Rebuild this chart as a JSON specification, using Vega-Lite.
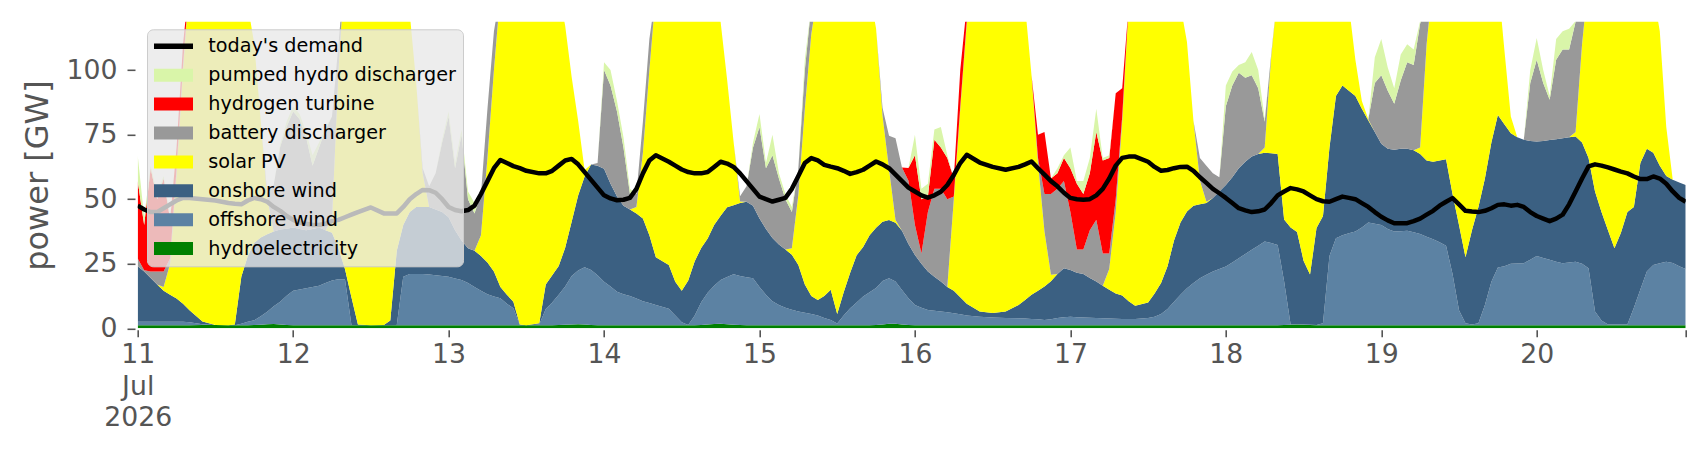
{
"$schema": "https://vega.github.io/schema/vega-lite/v6.json",
"width": 1548, "height": 306.5,
"autosize": {"type": "none"},
"padding": {"left": 137.7, "top": 21.8, "right": 20.3, "bottom": 131.7},
"background": "white",
"config": {"view": {"stroke": null}, "font": "DejaVu Sans"},
"datasets": {
"series": [
{"k":"hy","label":"hydroelectricity","i":1},
{"k":"of","label":"offshore wind","i":2},
{"k":"on","label":"onshore wind","i":3},
{"k":"so","label":"solar PV","i":4},
{"k":"ba","label":"battery discharger","i":5},
{"k":"h2","label":"hydrogen turbine","i":6},
{"k":"ph","label":"pumped hydro discharger","i":7}],
"gen": [
{"t":"2026-07-11T00:00","hy":1.2,"of":1.3,"on":21.5,"so":0,"ba":3,"h2":30,"ph":10,"d":47.5},
{"t":"2026-07-11T01:00","hy":1.2,"of":1.3,"on":19.5,"so":0,"ba":0.5,"h2":17.5,"ph":3,"d":46},
{"t":"2026-07-11T02:00","hy":1.2,"of":1.3,"on":17,"so":0,"ba":2.5,"h2":40,"ph":1,"d":45},
{"t":"2026-07-11T03:00","hy":1.2,"of":1.3,"on":14.5,"so":0,"ba":5,"h2":28,"ph":2,"d":45},
{"t":"2026-07-11T04:00","hy":1.2,"of":1.3,"on":12,"so":1.5,"ba":6,"h2":36,"ph":1,"d":46.5},
{"t":"2026-07-11T05:00","hy":1.2,"of":1.3,"on":10.5,"so":12,"ba":2,"h2":15,"ph":1,"d":48},
{"t":"2026-07-11T06:00","hy":1.2,"of":1.3,"on":9,"so":48.5,"ba":2,"h2":8,"ph":0,"d":49.5},
{"t":"2026-07-11T07:00","hy":1.2,"of":1.3,"on":7,"so":90.5,"ba":2,"h2":8,"ph":0,"d":50.5},
{"t":"2026-07-11T08:00","hy":1.2,"of":1.1,"on":4.7,"so":128,"ba":0,"h2":0,"ph":0,"d":50.5},
{"t":"2026-07-11T10:00","hy":1.3,"of":0.3,"on":1,"so":157.5,"ba":0,"h2":0,"ph":0,"d":50},
{"t":"2026-07-11T12:00","hy":1.3,"of":0,"on":0,"so":168.8,"ba":0,"h2":0,"ph":0,"d":49.5},
{"t":"2026-07-11T14:00","hy":1.2,"of":0,"on":0,"so":158.8,"ba":0,"h2":0,"ph":0,"d":48.5},
{"t":"2026-07-11T15:00","hy":1.2,"of":0,"on":0.3,"so":148.5,"ba":0,"h2":0,"ph":0,"d":48.2},
{"t":"2026-07-11T16:00","hy":1.2,"of":0.6,"on":18.2,"so":120,"ba":0,"h2":0,"ph":0,"d":48},
{"t":"2026-07-11T17:00","hy":1.2,"of":1.3,"on":25.5,"so":97,"ba":0,"h2":0,"ph":0,"d":49.5},
{"t":"2026-07-11T18:00","hy":1.3,"of":1.8,"on":30,"so":77,"ba":0,"h2":0,"ph":0,"d":50.5},
{"t":"2026-07-11T19:00","hy":1.4,"of":3.3,"on":30.5,"so":45,"ba":0,"h2":0,"ph":0,"d":50},
{"t":"2026-07-11T20:00","hy":1.6,"of":4.8,"on":30,"so":14,"ba":2,"h2":0,"ph":0,"d":49},
{"t":"2026-07-11T21:00","hy":1.7,"of":6.8,"on":29,"so":0,"ba":18,"h2":0,"ph":0,"d":47},
{"t":"2026-07-11T22:00","hy":1.5,"of":8.8,"on":28,"so":0,"ba":32,"h2":0,"ph":1,"d":45.5},
{"t":"2026-07-11T23:00","hy":1.3,"of":11.3,"on":26,"so":0,"ba":39.5,"h2":0,"ph":2,"d":43.5},
{"t":"2026-07-12T00:00","hy":1.2,"of":13.3,"on":24.5,"so":0,"ba":45,"h2":0,"ph":2,"d":42},
{"t":"2026-07-12T01:00","hy":1.2,"of":13.8,"on":23.5,"so":0,"ba":42.5,"h2":0,"ph":2,"d":41},
{"t":"2026-07-12T02:00","hy":1.2,"of":14.3,"on":22.5,"so":0,"ba":36,"h2":0,"ph":2,"d":40.5},
{"t":"2026-07-12T03:00","hy":1.2,"of":14.8,"on":22.5,"so":0,"ba":24.5,"h2":0,"ph":4,"d":40},
{"t":"2026-07-12T04:00","hy":1.2,"of":15.3,"on":22.5,"so":0,"ba":31,"h2":0,"ph":2,"d":40},
{"t":"2026-07-12T05:00","hy":1.2,"of":16.3,"on":20.5,"so":0,"ba":39,"h2":0,"ph":1,"d":40.5},
{"t":"2026-07-12T06:00","hy":1.2,"of":17.3,"on":18.5,"so":5,"ba":40,"h2":0,"ph":0,"d":41.5},
{"t":"2026-07-12T07:00","hy":1.2,"of":17.8,"on":12,"so":69,"ba":10,"h2":0,"ph":0,"d":42},
{"t":"2026-07-12T08:00","hy":1.2,"of":17.8,"on":4,"so":117,"ba":0,"h2":0,"ph":0,"d":43},
{"t":"2026-07-12T09:00","hy":1.2,"of":0.1,"on":10.7,"so":138,"ba":0,"h2":0,"ph":0,"d":44},
{"t":"2026-07-12T10:00","hy":1.2,"of":0,"on":0.3,"so":158.5,"ba":0,"h2":0,"ph":0,"d":45},
{"t":"2026-07-12T12:00","hy":1.2,"of":0,"on":0,"so":168.8,"ba":0,"h2":0,"ph":0,"d":46.8},
{"t":"2026-07-12T14:00","hy":1.2,"of":0,"on":0.1,"so":158.7,"ba":0,"h2":0,"ph":0,"d":44.5},
{"t":"2026-07-12T15:00","hy":1.2,"of":0,"on":1.8,"so":147,"ba":0,"h2":0,"ph":0,"d":44.5},
{"t":"2026-07-12T16:00","hy":1.2,"of":0.1,"on":28.7,"so":110,"ba":0,"h2":0,"ph":0,"d":44.5},
{"t":"2026-07-12T17:00","hy":1.2,"of":18.8,"on":20,"so":90,"ba":0,"h2":0,"ph":0,"d":47},
{"t":"2026-07-12T18:00","hy":1.2,"of":19.8,"on":24,"so":77,"ba":0,"h2":0,"ph":0,"d":50},
{"t":"2026-07-12T19:00","hy":1.2,"of":19.8,"on":26,"so":48,"ba":0,"h2":0,"ph":0,"d":52},
{"t":"2026-07-12T20:00","hy":1.2,"of":19.8,"on":26,"so":13,"ba":2,"h2":0,"ph":0,"d":53.6},
{"t":"2026-07-12T21:00","hy":1.2,"of":19.6,"on":26.2,"so":0,"ba":8,"h2":0,"ph":0,"d":53.5},
{"t":"2026-07-12T22:00","hy":1.2,"of":19.3,"on":25.5,"so":0,"ba":14,"h2":0,"ph":0,"d":52.5},
{"t":"2026-07-12T23:00","hy":1.2,"of":19.1,"on":24.7,"so":0,"ba":27,"h2":0,"ph":1,"d":50},
{"t":"2026-07-13T00:00","hy":1.2,"of":18.8,"on":23,"so":0,"ba":39,"h2":0,"ph":2,"d":47},
{"t":"2026-07-13T01:00","hy":1.2,"of":18.1,"on":18.7,"so":0,"ba":24,"h2":0,"ph":2,"d":45.8},
{"t":"2026-07-13T02:00","hy":1.2,"of":17.5,"on":15.3,"so":0,"ba":41,"h2":0,"ph":2,"d":45.3},
{"t":"2026-07-13T03:00","hy":1.2,"of":16.3,"on":13.5,"so":0,"ba":19,"h2":0,"ph":3,"d":45.8},
{"t":"2026-07-13T04:00","hy":1.2,"of":14.8,"on":14,"so":0,"ba":14.5,"h2":0,"ph":4,"d":47.5},
{"t":"2026-07-13T05:00","hy":1.2,"of":13.3,"on":13.5,"so":8,"ba":16,"h2":0,"ph":0,"d":52},
{"t":"2026-07-13T06:00","hy":1.2,"of":12,"on":12.3,"so":40.5,"ba":19,"h2":0,"ph":0,"d":57},
{"t":"2026-07-13T07:00","hy":1.2,"of":11.1,"on":9.7,"so":78,"ba":15,"h2":0,"ph":0,"d":62},
{"t":"2026-07-13T08:00","hy":1.2,"of":10.4,"on":4.4,"so":114,"ba":0,"h2":0,"ph":0,"d":65.2},
{"t":"2026-07-13T09:00","hy":1.2,"of":8.3,"on":3.5,"so":127,"ba":0,"h2":0,"ph":0,"d":64},
{"t":"2026-07-13T10:00","hy":1.2,"of":6.6,"on":2.5,"so":139.7,"ba":0,"h2":0,"ph":0,"d":62.8},
{"t":"2026-07-13T11:00","hy":1.2,"of":0.1,"on":0.2,"so":158.5,"ba":0,"h2":0,"ph":0,"d":62},
{"t":"2026-07-13T12:00","hy":1.2,"of":0,"on":0,"so":168.8,"ba":0,"h2":0,"ph":0,"d":61},
{"t":"2026-07-13T14:00","hy":1.2,"of":0.3,"on":0.5,"so":158,"ba":0,"h2":0,"ph":0,"d":60},
{"t":"2026-07-13T15:00","hy":1.2,"of":6.3,"on":9.5,"so":133,"ba":0,"h2":0,"ph":0,"d":60},
{"t":"2026-07-13T16:00","hy":1.2,"of":8.8,"on":10.5,"so":119.5,"ba":0,"h2":0,"ph":0,"d":61},
{"t":"2026-07-13T17:00","hy":1.3,"of":11.7,"on":11.1,"so":106,"ba":0,"h2":0,"ph":0,"d":63},
{"t":"2026-07-13T18:00","hy":1.4,"of":14.8,"on":15,"so":86,"ba":0,"h2":0,"ph":0,"d":65},
{"t":"2026-07-13T19:00","hy":1.5,"of":18.8,"on":21,"so":56,"ba":0,"h2":0,"ph":0,"d":65.6},
{"t":"2026-07-13T20:00","hy":1.6,"of":20.8,"on":29,"so":29,"ba":0,"h2":0,"ph":0,"d":63.5},
{"t":"2026-07-13T21:00","hy":1.5,"of":22.1,"on":35.2,"so":2.5,"ba":0,"h2":0,"ph":0,"d":60.5},
{"t":"2026-07-13T22:00","hy":1.3,"of":21.3,"on":40.8,"so":0,"ba":0,"h2":0,"ph":0,"d":57.5},
{"t":"2026-07-13T23:00","hy":1.2,"of":19.3,"on":42.5,"so":0,"ba":1,"h2":0,"ph":0,"d":54.5},
{"t":"2026-07-14T00:00","hy":1.2,"of":16.8,"on":43.8,"so":0,"ba":38.2,"h2":0,"ph":3,"d":51.5},
{"t":"2026-07-14T01:00","hy":1.2,"of":15,"on":39.8,"so":0,"ba":38,"h2":0,"ph":6,"d":50.3},
{"t":"2026-07-14T02:00","hy":1.2,"of":13,"on":36.8,"so":0,"ba":33,"h2":0,"ph":4,"d":49.6},
{"t":"2026-07-14T03:00","hy":1.2,"of":12,"on":34.3,"so":0,"ba":22.5,"h2":0,"ph":4,"d":49.8},
{"t":"2026-07-14T04:00","hy":1.2,"of":11.3,"on":33.5,"so":0,"ba":6,"h2":0,"ph":2,"d":50.5},
{"t":"2026-07-14T05:00","hy":1.2,"of":10.3,"on":33,"so":2.5,"ba":5,"h2":0,"ph":0,"d":54},
{"t":"2026-07-14T06:00","hy":1.2,"of":9.3,"on":32,"so":25.5,"ba":12,"h2":0,"ph":0,"d":60},
{"t":"2026-07-14T07:00","hy":1.2,"of":8.6,"on":26.2,"so":64,"ba":12,"h2":0,"ph":0,"d":65},
{"t":"2026-07-14T08:00","hy":1.2,"of":7.8,"on":18.5,"so":102.5,"ba":0,"h2":0,"ph":0,"d":67},
{"t":"2026-07-14T10:00","hy":1.2,"of":6.4,"on":16.9,"so":125.5,"ba":0,"h2":0,"ph":0,"d":64.5},
{"t":"2026-07-14T11:00","hy":1.2,"of":3.8,"on":13,"so":137,"ba":0,"h2":0,"ph":0,"d":63},
{"t":"2026-07-14T12:00","hy":1.2,"of":1.1,"on":12.2,"so":145.5,"ba":0,"h2":0,"ph":0,"d":61.5},
{"t":"2026-07-14T13:00","hy":1.2,"of":0.1,"on":17.2,"so":136.5,"ba":0,"h2":0,"ph":0,"d":60.5},
{"t":"2026-07-14T14:00","hy":1.2,"of":3.8,"on":21,"so":124,"ba":0,"h2":0,"ph":0,"d":60},
{"t":"2026-07-14T15:00","hy":1.3,"of":8.8,"on":21,"so":114,"ba":0,"h2":0,"ph":0,"d":60},
{"t":"2026-07-14T16:00","hy":1.5,"of":12.3,"on":21,"so":105.5,"ba":0,"h2":0,"ph":0,"d":60.5},
{"t":"2026-07-14T17:00","hy":1.7,"of":14.8,"on":23.5,"so":90.5,"ba":0,"h2":0,"ph":0,"d":62.5},
{"t":"2026-07-14T18:00","hy":1.8,"of":16.9,"on":24.9,"so":75,"ba":0,"h2":0,"ph":0,"d":64.5},
{"t":"2026-07-14T19:00","hy":1.6,"of":18.3,"on":27,"so":49.5,"ba":0,"h2":0,"ph":0,"d":63.8},
{"t":"2026-07-14T20:00","hy":1.4,"of":19.5,"on":26.8,"so":24.5,"ba":0,"h2":0,"ph":0,"d":62.5},
{"t":"2026-07-14T21:00","hy":1.3,"of":19,"on":28.2,"so":0.6,"ba":2,"h2":0,"ph":0,"d":60},
{"t":"2026-07-14T22:00","hy":1.2,"of":18.6,"on":29.2,"so":0,"ba":6,"h2":0,"ph":0,"d":57},
{"t":"2026-07-14T23:00","hy":1.2,"of":18.2,"on":28.1,"so":0,"ba":22.5,"h2":0,"ph":2,"d":54},
{"t":"2026-07-15T00:00","hy":1.2,"of":14.8,"on":26.5,"so":0,"ba":35.5,"h2":0,"ph":5,"d":51},
{"t":"2026-07-15T01:00","hy":1.2,"of":11.8,"on":25.5,"so":0,"ba":23.5,"h2":0,"ph":2,"d":50},
{"t":"2026-07-15T02:00","hy":1.2,"of":9.3,"on":24.5,"so":0,"ba":32,"h2":0,"ph":8,"d":49.1},
{"t":"2026-07-15T03:00","hy":1.2,"of":7.8,"on":23.5,"so":0,"ba":25.5,"h2":0,"ph":2,"d":49.8},
{"t":"2026-07-15T04:00","hy":1.2,"of":6.8,"on":22.5,"so":0,"ba":19.5,"h2":0,"ph":2,"d":50.5},
{"t":"2026-07-15T05:00","hy":1.2,"of":6,"on":21.3,"so":2.5,"ba":14,"h2":0,"ph":2,"d":54},
{"t":"2026-07-15T06:00","hy":1.2,"of":5.3,"on":18,"so":27.2,"ba":10.3,"h2":0,"ph":0,"d":59},
{"t":"2026-07-15T07:00","hy":1.2,"of":4.8,"on":11,"so":68,"ba":15,"h2":0,"ph":4,"d":64},
{"t":"2026-07-15T08:00","hy":1.2,"of":4.3,"on":7,"so":101.5,"ba":11,"h2":0,"ph":0,"d":65.9},
{"t":"2026-07-15T09:00","hy":1.2,"of":3.8,"on":6,"so":119,"ba":0,"h2":0,"ph":0,"d":65},
{"t":"2026-07-15T10:00","hy":1.2,"of":2.8,"on":8.5,"so":122.5,"ba":0,"h2":0,"ph":0,"d":63.3},
{"t":"2026-07-15T11:00","hy":1.2,"of":2,"on":11.7,"so":120.1,"ba":0,"h2":0,"ph":0,"d":62.6},
{"t":"2026-07-15T12:00","hy":1.2,"of":0.7,"on":3.6,"so":134.5,"ba":0,"h2":0,"ph":0,"d":62},
{"t":"2026-07-15T13:00","hy":1.2,"of":3.8,"on":9,"so":126,"ba":0,"h2":0,"ph":0,"d":61},
{"t":"2026-07-15T14:00","hy":1.2,"of":6.6,"on":13.7,"so":118.5,"ba":0,"h2":0,"ph":0,"d":59.8},
{"t":"2026-07-15T15:00","hy":1.2,"of":8.8,"on":18.3,"so":109.7,"ba":0,"h2":0,"ph":0,"d":60.5},
{"t":"2026-07-15T16:00","hy":1.2,"of":11.1,"on":19.2,"so":103.5,"ba":0,"h2":0,"ph":0,"d":61.4},
{"t":"2026-07-15T17:00","hy":1.2,"of":12.8,"on":22,"so":94,"ba":0,"h2":0,"ph":0,"d":63},
{"t":"2026-07-15T18:00","hy":1.3,"of":14.3,"on":23.3,"so":77.2,"ba":0,"h2":0,"ph":0,"d":64.6},
{"t":"2026-07-15T19:00","hy":1.5,"of":16.8,"on":23,"so":41,"ba":3,"h2":0,"ph":0,"d":63.5},
{"t":"2026-07-15T20:00","hy":1.8,"of":17.6,"on":22.5,"so":19.7,"ba":13,"h2":0,"ph":0,"d":62},
{"t":"2026-07-15T21:00","hy":1.8,"of":16.3,"on":22.8,"so":1,"ba":31.7,"h2":0,"ph":0,"d":59.5},
{"t":"2026-07-15T22:00","hy":1.5,"of":13.3,"on":23,"so":0,"ba":24.5,"h2":0,"ph":0,"d":57},
{"t":"2026-07-15T23:00","hy":1.3,"of":10.3,"on":21,"so":0,"ba":24.5,"h2":5,"ph":0,"d":54.5},
{"t":"2026-07-16T00:00","hy":1.2,"of":7.8,"on":19.4,"so":0,"ba":11.6,"h2":27,"ph":8,"d":53},
{"t":"2026-07-16T01:00","hy":1.2,"of":6.8,"on":17,"so":0,"ba":4,"h2":21,"ph":4,"d":51.5},
{"t":"2026-07-16T02:00","hy":1.2,"of":5.9,"on":14.9,"so":0,"ba":23,"h2":6,"ph":5,"d":50.6},
{"t":"2026-07-16T03:00","hy":1.2,"of":5.6,"on":13.2,"so":0,"ba":34,"h2":19,"ph":4,"d":51.5},
{"t":"2026-07-16T04:00","hy":1.2,"of":5.3,"on":11.6,"so":0,"ba":35.9,"h2":16,"ph":8,"d":52.9},
{"t":"2026-07-16T05:00","hy":1.2,"of":5,"on":9.8,"so":0,"ba":34,"h2":16,"ph":1,"d":55.5},
{"t":"2026-07-16T06:00","hy":1.2,"of":4.6,"on":8.7,"so":35.5,"ba":1,"h2":7,"ph":0,"d":59.4},
{"t":"2026-07-16T07:00","hy":1.2,"of":4.2,"on":6.6,"so":73,"ba":1,"h2":14,"ph":0,"d":64},
{"t":"2026-07-16T08:00","hy":1.2,"of":3.8,"on":4.5,"so":108.5,"ba":1,"h2":6,"ph":0,"d":67.2},
{"t":"2026-07-16T10:00","hy":1.2,"of":3.3,"on":2,"so":128.5,"ba":0,"h2":0,"ph":0,"d":64.2},
{"t":"2026-07-16T12:00","hy":1.2,"of":3,"on":1.7,"so":129.1,"ba":0,"h2":0,"ph":0,"d":62.5},
{"t":"2026-07-16T14:00","hy":1.2,"of":2.8,"on":2.5,"so":128.5,"ba":0,"h2":0,"ph":0,"d":61.4},
{"t":"2026-07-16T16:00","hy":1.2,"of":2.7,"on":5.1,"so":126,"ba":0,"h2":0,"ph":0,"d":62.5},
{"t":"2026-07-16T17:00","hy":1.2,"of":2.6,"on":7.2,"so":114,"ba":0,"h2":0,"ph":0,"d":63.5},
{"t":"2026-07-16T18:00","hy":1.2,"of":2.4,"on":9.4,"so":85,"ba":0,"h2":0,"ph":0,"d":64.6},
{"t":"2026-07-16T19:00","hy":1.2,"of":2.3,"on":11,"so":49.5,"ba":2,"h2":9,"ph":0,"d":62},
{"t":"2026-07-16T20:00","hy":1.2,"of":2,"on":13,"so":21.3,"ba":14.5,"h2":24,"ph":0,"d":59.5},
{"t":"2026-07-16T21:00","hy":1.2,"of":2.3,"on":14.7,"so":2.5,"ba":31.3,"h2":6,"ph":0,"d":57},
{"t":"2026-07-16T22:00","hy":1.2,"of":2.8,"on":17,"so":0,"ba":33,"h2":6,"ph":2,"d":55},
{"t":"2026-07-16T23:00","hy":1.2,"of":3.1,"on":19,"so":0,"ba":33.7,"h2":9,"ph":1,"d":52.5},
{"t":"2026-07-17T00:00","hy":1.2,"of":3.3,"on":18.1,"so":0,"ba":22.4,"h2":17,"ph":8,"d":50.5},
{"t":"2026-07-17T01:00","hy":1.2,"of":3.1,"on":17.2,"so":0,"ba":9,"h2":25.5,"ph":1,"d":50},
{"t":"2026-07-17T02:00","hy":1.2,"of":3,"on":16.8,"so":0,"ba":9.5,"h2":21.5,"ph":5,"d":49.8},
{"t":"2026-07-17T03:00","hy":1.2,"of":2.9,"on":15.4,"so":0,"ba":18.5,"h2":22,"ph":6,"d":50},
{"t":"2026-07-17T04:00","hy":1.2,"of":2.8,"on":14.1,"so":0,"ba":23.9,"h2":34,"ph":9,"d":51.5},
{"t":"2026-07-17T05:00","hy":1.2,"of":2.7,"on":12.6,"so":0,"ba":12.5,"h2":36,"ph":1,"d":54},
{"t":"2026-07-17T06:00","hy":1.2,"of":2.6,"on":11.1,"so":8.1,"ba":6,"h2":37,"ph":1,"d":58},
{"t":"2026-07-17T07:00","hy":1.2,"of":2.5,"on":9.8,"so":31.5,"ba":5,"h2":41,"ph":0,"d":63},
{"t":"2026-07-17T08:00","hy":1.2,"of":2.4,"on":9.1,"so":67.3,"ba":2,"h2":11,"ph":0,"d":66},
{"t":"2026-07-17T09:00","hy":1.2,"of":2.4,"on":6.9,"so":114.5,"ba":0,"h2":0,"ph":0,"d":66.5},
{"t":"2026-07-17T10:00","hy":1.2,"of":2.4,"on":5.1,"so":126.3,"ba":0,"h2":0,"ph":0,"d":66.5},
{"t":"2026-07-17T12:00","hy":1.2,"of":2.8,"on":6,"so":125,"ba":0,"h2":0,"ph":0,"d":64.5},
{"t":"2026-07-17T13:00","hy":1.2,"of":3.3,"on":9,"so":121.5,"ba":0,"h2":0,"ph":0,"d":62.5},
{"t":"2026-07-17T14:00","hy":1.2,"of":4.3,"on":12,"so":117.5,"ba":0,"h2":0,"ph":0,"d":61},
{"t":"2026-07-17T15:00","hy":1.2,"of":6.3,"on":16.5,"so":111,"ba":0,"h2":0,"ph":0,"d":61.3},
{"t":"2026-07-17T16:00","hy":1.2,"of":9.1,"on":23.7,"so":101,"ba":0,"h2":0,"ph":0,"d":62},
{"t":"2026-07-17T17:00","hy":1.2,"of":11.8,"on":28,"so":84,"ba":0,"h2":0,"ph":0,"d":62.5},
{"t":"2026-07-17T18:00","hy":1.2,"of":14.3,"on":29.7,"so":65.7,"ba":0,"h2":0,"ph":0,"d":62.6},
{"t":"2026-07-17T19:00","hy":1.2,"of":16.3,"on":30,"so":32.9,"ba":0,"h2":0,"ph":0,"d":61},
{"t":"2026-07-17T20:00","hy":1.2,"of":18.2,"on":28.6,"so":9.2,"ba":8.8,"h2":0,"ph":0,"d":58.5},
{"t":"2026-07-17T21:00","hy":1.2,"of":19.5,"on":27.8,"so":0.5,"ba":14,"h2":0,"ph":0,"d":56.3},
{"t":"2026-07-17T22:00","hy":1.2,"of":20.8,"on":28.5,"so":0,"ba":9.5,"h2":0,"ph":0,"d":54},
{"t":"2026-07-17T23:00","hy":1.2,"of":21.8,"on":30,"so":0,"ba":5.5,"h2":0,"ph":0,"d":52.3},
{"t":"2026-07-18T00:00","hy":1.2,"of":22.7,"on":31.6,"so":0,"ba":30.5,"h2":0,"ph":8,"d":50.5},
{"t":"2026-07-18T01:00","hy":1.2,"of":24.3,"on":33,"so":0,"ba":35.5,"h2":0,"ph":5.5,"d":48.5},
{"t":"2026-07-18T02:00","hy":1.2,"of":25.9,"on":34.9,"so":0,"ba":37,"h2":0,"ph":3,"d":46.5},
{"t":"2026-07-18T03:00","hy":1.2,"of":27.6,"on":35.7,"so":0,"ba":32.5,"h2":0,"ph":6,"d":45.7},
{"t":"2026-07-18T04:00","hy":1.2,"of":29.2,"on":36.1,"so":0,"ba":31.5,"h2":0,"ph":9,"d":45},
{"t":"2026-07-18T05:00","hy":1.2,"of":30.8,"on":35.5,"so":0,"ba":25.5,"h2":0,"ph":7,"d":45.3},
{"t":"2026-07-18T06:00","hy":1.2,"of":32.4,"on":34.4,"so":2,"ba":10,"h2":0,"ph":1,"d":46},
{"t":"2026-07-18T07:00","hy":1.2,"of":31.8,"on":34.8,"so":37.2,"ba":1,"h2":0,"ph":0,"d":48.5},
{"t":"2026-07-18T08:00","hy":1.2,"of":31.1,"on":35.2,"so":62.5,"ba":0,"h2":0,"ph":0,"d":51.5},
{"t":"2026-07-18T09:00","hy":1.3,"of":16.8,"on":24,"so":93,"ba":0,"h2":0,"ph":0,"d":53},
{"t":"2026-07-18T10:00","hy":1.4,"of":0.1,"on":37.5,"so":96.2,"ba":0,"h2":0,"ph":0,"d":54.3},
{"t":"2026-07-18T11:00","hy":1.5,"of":0.1,"on":35.7,"so":98,"ba":0,"h2":0,"ph":0,"d":53.8},
{"t":"2026-07-18T12:00","hy":1.4,"of":0.1,"on":24.7,"so":114,"ba":0,"h2":0,"ph":0,"d":53},
{"t":"2026-07-18T13:00","hy":1.3,"of":0.1,"on":19.4,"so":119.3,"ba":0,"h2":0,"ph":0,"d":51.5},
{"t":"2026-07-18T14:00","hy":1.2,"of":0.1,"on":37.5,"so":96.2,"ba":0,"h2":0,"ph":0,"d":50},
{"t":"2026-07-18T15:00","hy":1.2,"of":0.8,"on":41.5,"so":91.5,"ba":0,"h2":0,"ph":0,"d":49.2},
{"t":"2026-07-18T16:00","hy":1.2,"of":26.8,"on":42,"so":65,"ba":0,"h2":0,"ph":0,"d":49},
{"t":"2026-07-18T17:00","hy":1.2,"of":33.7,"on":55.1,"so":45,"ba":0,"h2":0,"ph":0,"d":50},
{"t":"2026-07-18T18:00","hy":1.2,"of":34.8,"on":58,"so":41,"ba":0,"h2":0,"ph":0,"d":51},
{"t":"2026-07-18T19:00","hy":1.2,"of":35.6,"on":55.2,"so":33,"ba":0,"h2":0,"ph":0,"d":50.5},
{"t":"2026-07-18T20:00","hy":1.2,"of":36.3,"on":52.5,"so":14,"ba":0,"h2":0,"ph":0,"d":50},
{"t":"2026-07-18T21:00","hy":1.2,"of":37.8,"on":46,"so":3,"ba":0,"h2":0,"ph":0,"d":48.5},
{"t":"2026-07-18T22:00","hy":1.2,"of":39.8,"on":39.5,"so":0.5,"ba":0,"h2":0,"ph":0,"d":47},
{"t":"2026-07-18T23:00","hy":1.2,"of":39.3,"on":35.5,"so":0,"ba":19,"h2":0,"ph":10,"d":45},
{"t":"2026-07-19T00:00","hy":1.2,"of":38.8,"on":31.5,"so":0,"ba":26.5,"h2":0,"ph":14,"d":43.2},
{"t":"2026-07-19T01:00","hy":1.2,"of":37.3,"on":31,"so":0,"ba":22.5,"h2":0,"ph":9,"d":41.8},
{"t":"2026-07-19T02:00","hy":1.2,"of":36.3,"on":31.6,"so":0,"ba":17.9,"h2":0,"ph":6,"d":40.7},
{"t":"2026-07-19T03:00","hy":1.2,"of":36.4,"on":31.9,"so":0,"ba":26.5,"h2":0,"ph":10,"d":40.7},
{"t":"2026-07-19T04:00","hy":1.2,"of":36.6,"on":31.7,"so":0,"ba":33.5,"h2":0,"ph":7,"d":40.7},
{"t":"2026-07-19T05:00","hy":1.2,"of":36,"on":31.8,"so":0,"ba":33,"h2":0,"ph":6,"d":41.5},
{"t":"2026-07-19T06:00","hy":1.2,"of":35.3,"on":31,"so":2.5,"ba":48,"h2":0,"ph":1,"d":42.5},
{"t":"2026-07-19T07:00","hy":1.2,"of":34.3,"on":29.5,"so":45,"ba":15,"h2":0,"ph":0,"d":44},
{"t":"2026-07-19T08:00","hy":1.2,"of":33.3,"on":30,"so":70.5,"ba":0,"h2":0,"ph":0,"d":45.5},
{"t":"2026-07-19T09:00","hy":1.2,"of":32.1,"on":31.7,"so":70,"ba":0,"h2":0,"ph":0,"d":47.5},
{"t":"2026-07-19T10:00","hy":1.2,"of":30.8,"on":33.5,"so":69.5,"ba":0,"h2":0,"ph":0,"d":49},
{"t":"2026-07-19T11:00","hy":1.2,"of":19.8,"on":31,"so":83,"ba":0,"h2":0,"ph":0,"d":50.4},
{"t":"2026-07-19T12:00","hy":1.2,"of":5.8,"on":33,"so":100,"ba":0,"h2":0,"ph":0,"d":48},
{"t":"2026-07-19T13:00","hy":1.2,"of":0.8,"on":25.5,"so":112.5,"ba":0,"h2":0,"ph":0,"d":45.5},
{"t":"2026-07-19T14:00","hy":1.2,"of":0.3,"on":36.5,"so":102,"ba":0,"h2":0,"ph":0,"d":45.2},
{"t":"2026-07-19T15:00","hy":1.2,"of":0.8,"on":45,"so":88,"ba":0,"h2":0,"ph":0,"d":45},
{"t":"2026-07-19T16:00","hy":1.2,"of":7.8,"on":49,"so":77,"ba":0,"h2":0,"ph":0,"d":45.5},
{"t":"2026-07-19T17:00","hy":1.2,"of":16.8,"on":54,"so":63,"ba":0,"h2":0,"ph":0,"d":46.5},
{"t":"2026-07-19T18:00","hy":1.2,"of":22.3,"on":59.1,"so":52.4,"ba":0,"h2":0,"ph":0,"d":47.8},
{"t":"2026-07-19T19:00","hy":1.2,"of":22.8,"on":55,"so":29,"ba":0,"h2":0,"ph":0,"d":48},
{"t":"2026-07-19T20:00","hy":1.2,"of":23.8,"on":50.5,"so":6.5,"ba":0,"h2":0,"ph":0,"d":47.5},
{"t":"2026-07-19T21:00","hy":1.2,"of":23.9,"on":48.9,"so":0,"ba":0,"h2":0,"ph":0,"d":47.8},
{"t":"2026-07-19T22:00","hy":1.2,"of":24,"on":47.8,"so":0,"ba":0,"h2":0,"ph":0,"d":47},
{"t":"2026-07-19T23:00","hy":1.2,"of":25.3,"on":46,"so":0,"ba":22.5,"h2":0,"ph":5,"d":45},
{"t":"2026-07-20T00:00","hy":1.2,"of":26.8,"on":44.3,"so":0,"ba":31.7,"h2":0,"ph":8.4,"d":43.5},
{"t":"2026-07-20T01:00","hy":1.2,"of":26,"on":45.3,"so":0,"ba":22.5,"h2":0,"ph":5,"d":42.5},
{"t":"2026-07-20T02:00","hy":1.2,"of":25.3,"on":46.4,"so":0,"ba":15.6,"h2":0,"ph":1.5,"d":41.5},
{"t":"2026-07-20T03:00","hy":1.2,"of":24.6,"on":47.4,"so":0,"ba":30.8,"h2":0,"ph":8,"d":42.5},
{"t":"2026-07-20T04:00","hy":1.2,"of":24,"on":48.4,"so":0,"ba":34.4,"h2":0,"ph":7,"d":44},
{"t":"2026-07-20T05:00","hy":1.2,"of":24.3,"on":48.5,"so":0,"ba":34,"h2":0,"ph":8,"d":48},
{"t":"2026-07-20T06:00","hy":1.2,"of":24.6,"on":48.5,"so":1.7,"ba":42.7,"h2":0,"ph":0.3,"d":53},
{"t":"2026-07-20T07:00","hy":1.2,"of":23.8,"on":47,"so":38,"ba":15,"h2":0,"ph":0,"d":58},
{"t":"2026-07-20T08:00","hy":1.2,"of":22.1,"on":42.7,"so":69,"ba":0,"h2":0,"ph":0,"d":62.7},
{"t":"2026-07-20T09:00","hy":1.2,"of":5.3,"on":46.5,"so":82,"ba":0,"h2":0,"ph":0,"d":63.5},
{"t":"2026-07-20T10:00","hy":1.2,"of":1.8,"on":42,"so":95,"ba":0,"h2":0,"ph":0,"d":63},
{"t":"2026-07-20T11:00","hy":1.2,"of":0.3,"on":36.5,"so":102,"ba":0,"h2":0,"ph":0,"d":62.3},
{"t":"2026-07-20T12:00","hy":1.2,"of":0.3,"on":29.5,"so":109,"ba":0,"h2":0,"ph":0,"d":61.5},
{"t":"2026-07-20T13:00","hy":1.2,"of":0.3,"on":35.5,"so":103,"ba":0,"h2":0,"ph":0,"d":60.7},
{"t":"2026-07-20T14:00","hy":1.2,"of":0.3,"on":43.5,"so":95,"ba":0,"h2":0,"ph":0,"d":60},
{"t":"2026-07-20T15:00","hy":1.2,"of":6.8,"on":39,"so":88,"ba":0,"h2":0,"ph":0,"d":58.8},
{"t":"2026-07-20T16:00","hy":1.2,"of":13.8,"on":49,"so":71,"ba":0,"h2":0,"ph":0,"d":57.8},
{"t":"2026-07-20T17:00","hy":1.2,"of":20.8,"on":47.5,"so":65.5,"ba":0,"h2":0,"ph":0,"d":57.8},
{"t":"2026-07-20T18:00","hy":1.2,"of":23.3,"on":43.5,"so":62,"ba":0,"h2":0,"ph":0,"d":58.8},
{"t":"2026-07-20T19:00","hy":1.2,"of":24,"on":37.8,"so":52,"ba":0,"h2":0,"ph":0,"d":58},
{"t":"2026-07-20T20:00","hy":1.2,"of":24.6,"on":33.2,"so":19,"ba":0,"h2":0,"ph":0,"d":56},
{"t":"2026-07-20T21:00","hy":1.2,"of":24.1,"on":32.2,"so":0,"ba":0,"h2":0,"ph":0,"d":53},
{"t":"2026-07-20T22:00","hy":1.2,"of":22.8,"on":32.5,"so":0,"ba":0,"h2":0,"ph":0,"d":50.5},
{"t":"2026-07-20T23:00","hy":1.2,"of":21.8,"on":32.5,"so":0,"ba":0,"h2":0,"ph":0,"d":49}
]},
"layer": [
{
"data": {"name": "gen"},
"transform": [
{"fold": ["hy","of","on","so","ba","h2","ph"], "as": ["k","v"]},
{"lookup": "k", "from": {"data": {"name": "series"}, "key": "k", "fields": ["label","i"]}}
],
"mark": {"type": "area", "clip": true, "interpolate": "linear"},
"encoding": {
"x": {"field": "t", "type": "temporal",
"scale": {"domain": [{"year":2026,"month":7,"date":11,"hours":0},{"year":2026,"month":7,"date":20,"hours":23}], "nice": false},
"axis": {"values": [{"year":2026,"month":7,"date":11},{"year":2026,"month":7,"date":12},{"year":2026,"month":7,"date":13},{"year":2026,"month":7,"date":14},{"year":2026,"month":7,"date":15},{"year":2026,"month":7,"date":16},{"year":2026,"month":7,"date":17},{"year":2026,"month":7,"date":18},{"year":2026,"month":7,"date":19},{"year":2026,"month":7,"date":20},{"year":2026,"month":7,"date":20,"hours":23}],
"labelExpr": "hours(datum.value) != 0 ? '' : (date(datum.value) == 11 ? ['11','Jul','2026'] : '' + date(datum.value))",
"grid": false, "domain": false, "tickColor": "#555555", "tickSize": 7, "tickWidth": 1.6,
"labelFontSize": 26.7, "labelColor": "#555555", "labelPadding": 5, "labelLineHeight": 31.5,
"labelFlush": false, "labelOverlap": false, "labelBound": false, "labelAngle": 0, "title": null, "offset": 1.5}},
"y": {"field": "v", "type": "quantitative", "stack": "zero",
"scale": {"domain": [0, 118.7], "nice": false},
"axis": {"values": [0,25,50,75,100], "title": "power [GW]", "titleFontSize": 32, "titleFontWeight": "normal", "titleColor": "#555555", "titlePadding": 12,
"labelFontSize": 26.7, "labelColor": "#555555", "labelPadding": 10, "tickSize": 8, "tickColor": "#555555", "tickWidth": 1.6,
"grid": false, "domain": false, "offset": 2.7}},
"color": {"field": "label", "type": "nominal",
"scale": {"domain": ["today's demand","pumped hydro discharger","hydrogen turbine","battery discharger","solar PV","onshore wind","offshore wind","hydroelectricity"],
"range": ["#000000","#d9f5a9","#ff0000","#999999","#ffff00","#3b6082","#5c82a3","#008000"]},
"legend": {"orient": "none", "legendX": 9.3, "legendY": 7.5, "title": null,
"fillColor": "rgba(232,232,232,0.8)", "strokeColor": "#cccccc", "cornerRadius": 6, "padding": 7,
"rowPadding": 7.9, "labelFontSize": 19.2, "labelColor": "#000000", "labelFont": "DejaVu Sans", "labelOffset": 34.3, "labelLimit": 600,
"symbolSize": 400, "symbolType": "M-1,-0.65H2.9V0.65H-1Z", "symbolStrokeWidth": 0,
"encode": {"symbols": {"update": {
"shape": {"signal": "datum.index === 0 ? 'M-1,-0.27H2.9V0.27H-1Z' : 'M-1,-0.65H2.9V0.65H-1Z'"},
"fill": {"signal": "scale('color', datum.value)"},
"strokeWidth": {"value": 0}, "opacity": {"value": 1}, "fillOpacity": {"value": 1}}}}}},
"order": {"field": "i", "type": "quantitative", "sort": "ascending"}
}
},
{
"data": {"name": "gen"},
"mark": {"type": "line", "clip": true, "strokeWidth": 4.5, "strokeJoin": "round"},
"encoding": {
"x": {"field": "t", "type": "temporal"},
"y": {"field": "d", "type": "quantitative"},
"color": {"datum": "today's demand"}
}
}
]
}
